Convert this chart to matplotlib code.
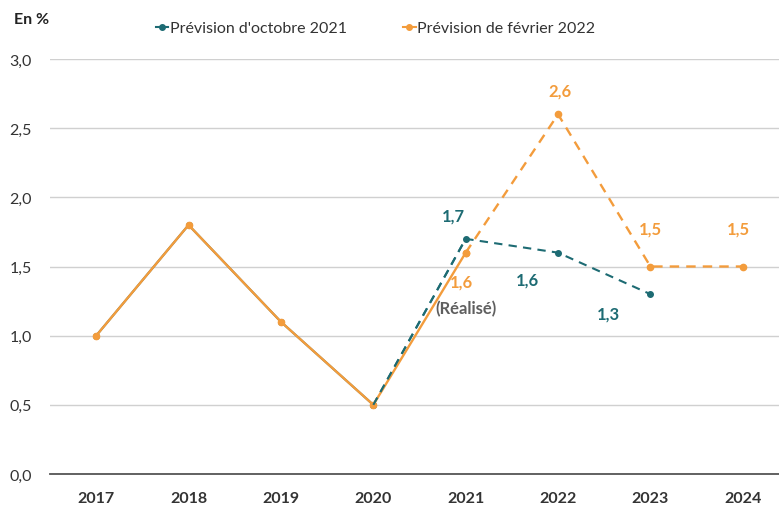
import numpy as np
import matplotlib
matplotlib.use("Agg")
import matplotlib.pyplot as plt
from matplotlib import rcParams
from matplotlib.lines import Line2D

rcParams.update({
    "font.family": ["Lato", "DejaVu Sans"],
    "font.size": 11,
})

years = ["2017", "2018", "2019", "2020", "2021", "2022", "2023", "2024"]
oct_2021 = [1.0, 1.8, 1.1, 0.5, 1.7, 1.6, 1.3]
feb_2022 = [1.0, 1.8, 1.1, 0.5, 1.6, 2.6, 1.5, 1.5]
yticks = [0.0, 0.5, 1.0, 1.5, 2.0, 2.5, 3.0]

TEAL = "#1d6b73"
ORANGE = "#f39c3c"
GREY = "#5f5f5f"

x = np.arange(len(years))
x_oct = x[:len(oct_2021)]

fig = plt.figure(figsize=(7.79, 5.06), dpi=100)
ax = fig.add_axes([50 / 779, 1 - 475 / 506, 1 - 50 / 779, 415 / 506])

# realised part solid (to 2020 for oct, 2021 for feb), forecasts dashed
ax.plot(x_oct[:4], oct_2021[:4], color=TEAL, lw=1.5, marker="o", ms=4, zorder=3)
ax.plot(x_oct[3:], oct_2021[3:], color=TEAL, lw=1.5, ls=(0, (4, 3)),
        marker="o", ms=4, zorder=3)
ax.plot(x[:5], feb_2022[:5], color=ORANGE, lw=1.7, marker="o", ms=4.5, zorder=4)
ax.plot(x[4:], feb_2022[4:], color=ORANGE, lw=1.7, ls=(0, (4, 3)),
        marker="o", ms=4.5, zorder=4)
# teal dashed 2020-2021 segment stays above the orange line
ax.plot(x_oct[3:5], oct_2021[3:5], color=TEAL, lw=1.5, ls=(0, (4, 3)), zorder=5)


def fmt(v):
    return f"{v:.1f}".replace(".", ",")


lab = dict(fontsize=12, fontweight="bold", ha="center", va="center",
           textcoords="offset points")
ax.annotate(fmt(oct_2021[4]), (x[4], oct_2021[4]), xytext=(-9, 17), color=TEAL, **lab)
ax.annotate(fmt(oct_2021[5]), (x[5], oct_2021[5]), xytext=(-22, -19), color=TEAL, **lab)
ax.annotate(fmt(oct_2021[6]), (x[6], oct_2021[6]), xytext=(-30, -14), color=TEAL, **lab)
ax.annotate(fmt(feb_2022[4]), (x[4], feb_2022[4]), xytext=(-3, -21), color=ORANGE, **lab)
ax.annotate(fmt(feb_2022[5]), (x[5], feb_2022[5]), xytext=(1, 17), color=ORANGE, **lab)
ax.annotate(fmt(feb_2022[6]), (x[6], feb_2022[6]), xytext=(0, 27), color=ORANGE, **lab)
ax.annotate(fmt(feb_2022[7]), (x[7], feb_2022[7]), xytext=(-3, 27), color=ORANGE, **lab)
ax.annotate("(Réalisé)", (x[4], feb_2022[4]), xytext=(0, -40), color=GREY, **lab)

ax.set_xlim(-0.5, (779 - 96) / 92.4)
ax.set_ylim(0, 3.0)
ax.set_xticks(x)
ax.set_xticklabels(years, fontweight="bold", fontsize=11.5, color="#333333")
ax.set_yticks(yticks)
ax.set_yticklabels([fmt(v) for v in yticks], fontsize=11.5, color="#333333")
ax.tick_params(length=0)
ax.tick_params(axis="x", pad=12)
ax.tick_params(axis="y", pad=13)

ax.grid(axis="y", color="#d0d0d0", lw=1)
ax.set_axisbelow(True)
for s in ["top", "right", "left"]:
    ax.spines[s].set_visible(False)
ax.spines["bottom"].set_color("#555555")
ax.spines["bottom"].set_linewidth(1.3)

handles = [Line2D([], [], color=TEAL, marker="o", ms=4, lw=1.5),
           Line2D([], [], color=ORANGE, marker="o", ms=4, lw=1.5)]
fig.legend(handles, ["Prévision d'octobre 2021", "Prévision de février 2022"],
           loc="center", bbox_to_anchor=(0.482, 1 - 29 / 506), ncol=2, frameon=False,
           fontsize=11.5, handlelength=0.8, handletextpad=0.1, columnspacing=3.5,
           labelcolor="#333333")

fig.text(14 / 779, 1 - 20 / 506, "En %", fontsize=11.5, fontweight="bold",
         va="center", ha="left", color="#222222")

fig.savefig("out.png", dpi=100)
